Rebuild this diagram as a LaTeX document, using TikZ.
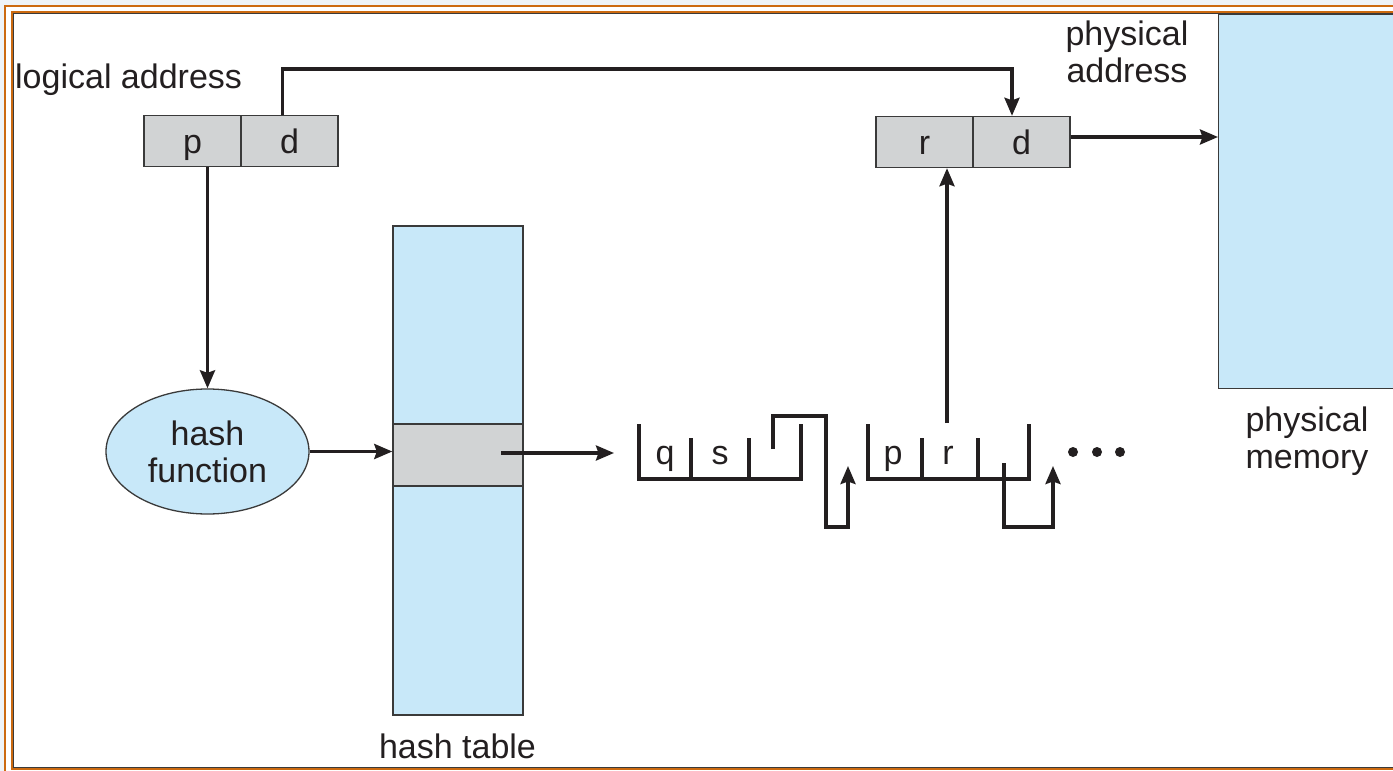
\documentclass[tikz,border=0pt]{standalone}
\usepackage{fontspec}
\setmainfont{Liberation Sans}
\usetikzlibrary{arrows.meta,shapes.geometric}
\definecolor{bgc}{HTML}{EEF3F7}
\definecolor{org}{HTML}{CC6A10}
\definecolor{memblue}{HTML}{C8E8F9}
\definecolor{cellgray}{HTML}{D1D3D4}
\definecolor{edgec}{HTML}{3A3A3A}
\definecolor{ink}{HTML}{231F20}
\begin{document}
\begin{tikzpicture}[x=1pt,y=-1pt,
  txt/.style={font=\fontsize{34}{37}\selectfont, text=ink, inner sep=0pt, align=center},
  cell/.style={draw=edgec, line width=1.4pt, fill=cellgray, minimum width=97pt, minimum height=51pt, inner sep=0pt, font=\fontsize{34}{37}\selectfont, text=ink, text height=24pt, text depth=0pt},
  conn/.style={draw=ink, line width=3.4pt},
  arr/.style={conn, -{Stealth[length=18pt,width=15pt,inset=2.5pt]}},
  listline/.style={draw=ink, line width=3.4pt, line cap=rect},
]
\clip (0,0) rectangle (1393,771);
\useasboundingbox (0,0) rectangle (1393,771);
% frame
\fill[bgc] (0,0) rectangle (1393,771);
\fill[white] (5,6) rectangle (1450,800);
\draw[org, line width=2pt] (5,6) rectangle (1450,800);
\draw[org, line width=2.6pt] (11.8,11.8) rectangle (1450,769);
\draw[edgec, line width=0.9pt] (13.6,13.6) rectangle (1450,767.2);

% physical memory
\node[draw=edgec, line width=1.4pt, fill=memblue, anchor=north west, minimum width=250pt, minimum height=374pt, inner sep=0pt] (mem) at (1218,14) {};
\node[txt] (memlbl) at (1307,441.5) {physical\\memory};

% hash table
\node[draw=edgec, line width=1.4pt, fill=memblue, minimum width=130pt, minimum height=489pt, inner sep=0pt] (ht) at (458,470.5) {};
\node[draw=edgec, line width=1.4pt, fill=cellgray, minimum width=130pt, minimum height=62pt, inner sep=0pt] (slot) at (458,455) {};
\node[txt, anchor=base] (htlbl) at (457.5,758) {hash table};

% hash function
\node[ellipse, draw=edgec, line width=1.3pt, fill=memblue, minimum width=203pt, minimum height=125pt, inner sep=0pt, txt] (hf) at (207.5,451.5) {hash\\function};

% logical address
\node[txt, anchor=base west] (lalbl) at (15,88) {logical address};
\node[cell] (lp) at (192.5,141) {p};
\node[cell] (ld) at (289.5,141) {d};

% physical address
\node[txt] (palbl) at (1127,52) {physical\\address};
\node[cell] (pr) at (924.5,142) {r};
\node[cell] (pd) at (1021.5,142) {d};

% connectors
\draw[arr] (lp.south -| hf.north) -- (hf.north);
\draw[arr] ([xshift=-7pt]ld.north) -- ++(0,-46) -| ([xshift=-9.5pt]pd.north);
\draw[arr] ([yshift=5pt]pd.east) -- ([yshift=5pt]pd.east -| mem.west);
\draw[arr] (hf.east) -- (hf.east -| slot.west);
\coordinate (slotout) at (501,453);
\coordinate (listin) at (614,453);
\draw[arr] (slotout) -- (listin);

% list element 1
\draw[listline] (639,426) -- (639,479) -- (801,479) -- (801,426);
\draw[listline] (691,440) -- (691,479);
\draw[listline] (749,440) -- (749,479);
\node[txt, anchor=base] (qlbl) at (665,464) {q};
\node[txt, anchor=base] (slbl) at (720,464) {s};
\coordinate (n1ptr) at (773,449);
\coordinate (n2in) at (848,466);
\draw[arr] (n1ptr) -- (773,416) -- (826,416) -- (826,527) -- (848,527) -- (n2in);

% list element 2
\draw[listline] (868,426) -- (868,479) -- (1029,479) -- (1029,426);
\draw[listline] (922,440) -- (922,479);
\draw[listline] (978,440) -- (978,479);
\node[txt, anchor=base] (plbl) at (893,464) {p};
\node[txt, anchor=base] (rlbl) at (948,464) {r};
\coordinate (n2ptr) at (1004,463);
\coordinate (n3in) at (1053,466);
\draw[arr] (n2ptr) -- (1004,527) -- (1053,527) -- (n3in);
\coordinate (rptr) at (947,423);
\draw[arr] (rptr) -- ([xshift=22.5pt]pr.south);

% dots
\fill[ink] (1073,452) circle (5pt);
\fill[ink] (1097,452) circle (5pt);
\fill[ink] (1120,452) circle (5pt);
\end{tikzpicture}
\end{document}
